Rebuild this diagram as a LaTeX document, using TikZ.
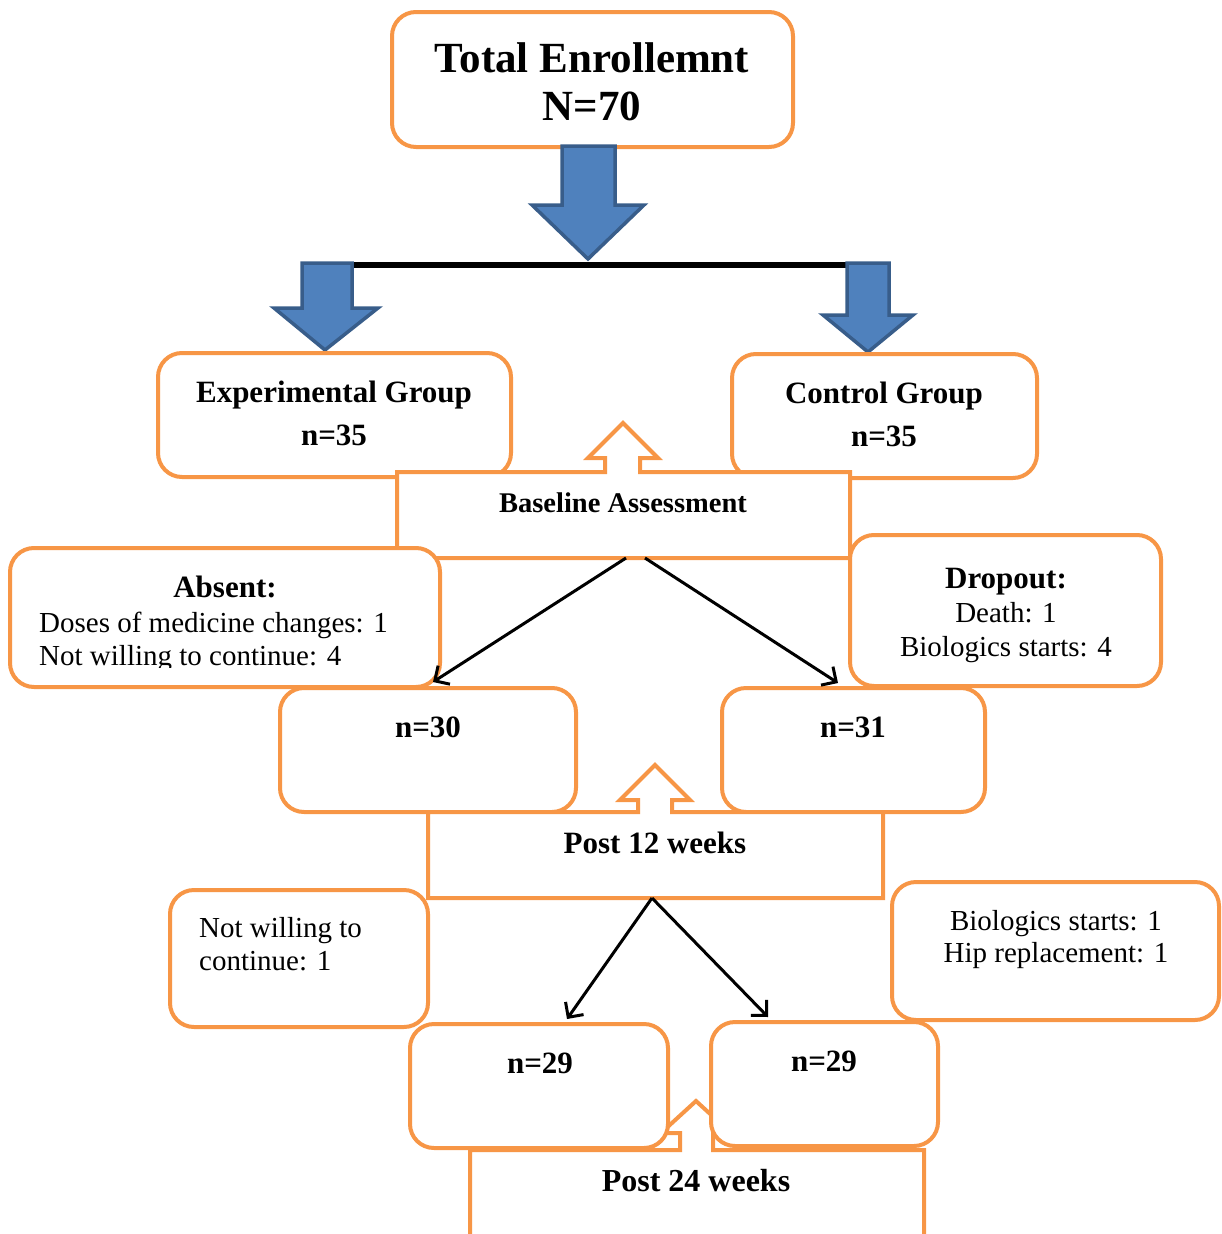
\documentclass[tikz,border=0pt]{standalone}
\usepackage{fontspec}
\setmainfont{Liberation Serif}
\usetikzlibrary{arrows.meta,calc}

\definecolor{boxorange}{HTML}{F79646}
\definecolor{arrowblue}{HTML}{4F81BD}
\definecolor{arrowedge}{HTML}{385D8A}

\newcommand\setfs[1]{\fontsize{#1}{#1}\selectfont}

\tikzset{
  grp/.style={draw=boxorange, line width=4pt, fill=white, rounded corners=24pt, inner sep=0pt},
  callout/.style={draw=boxorange, line width=4pt, fill=white, line join=miter},
  area/.style={inner sep=0pt, outer sep=0pt},
  bigarrow/.style={fill=arrowblue, draw=arrowedge, line width=3.5pt, line join=miter},
  conn/.style={line width=3pt, -{Straight Barb[length=11pt,width=22pt]}},
  head/.style={anchor=base, inner sep=0pt, font=\setfs{31}\bfseries},
  body/.style={anchor=base, inner sep=0pt, font=\setfs{29}},
}

\begin{document}
\begin{tikzpicture}[x=1pt,y=-1pt]
\useasboundingbox (0,0) rectangle (1221,1234);
\clip (0,0) rectangle (1221,1234);

% --- enrolment and split into the two groups ---
\node[grp, minimum width=401pt, minimum height=135pt] (total) at (592.5,79.5) {};
\node[anchor=base, inner sep=0pt, font=\setfs{43}\bfseries] (totalA) at (592,72) {Total Enrollemnt};
\node[anchor=base, inner sep=0pt, font=\setfs{43}\bfseries] (totalB) at (592,120) {N=70};

\draw[bigarrow] (562,146) -- (615,146) -- (615,205) -- (644,205) -- (588,259)
  -- (532,205) -- (562,205) -- cycle;
\draw[line width=6pt] (330,265) -- (878,265);
\draw[bigarrow] (302,263) -- (352,263) -- (352,308) -- (378,308) -- (325,350)
  -- (274,308) -- (302,308) -- cycle;
\draw[bigarrow] (847,263) -- (889,263) -- (889,315) -- (913,315) -- (868,352)
  -- (823,315) -- (847,315) -- cycle;

\node[grp, minimum width=353pt, minimum height=124pt] (exp) at (334.5,415) {};
\node[head] (expA) at (334,402) {Experimental Group};
\node[head] (expB) at (334,445) {n=35};

\node[grp, minimum width=305pt, minimum height=124pt] (ctl) at (884.5,416) {};
\node[head] (ctlA) at (884,403) {Control Group};
\node[head] (ctlB) at (884,446) {n=35};

% --- baseline assessment ---
\draw[callout] (397,472) -- (605,472) -- (605,458) -- (588,458) -- (623,423)
  -- (658,458) -- (640,458) -- (640,472) -- (850,472) -- (850,558) -- (397,558) -- cycle;
\node[area, minimum width=453pt, minimum height=86pt] (base) at (623.5,515) {};
\node[anchor=base, inner sep=0pt, font=\setfs{28.5}\bfseries] (baseT) at (623,512) {Baseline Assessment};

\node[grp, minimum width=430pt, minimum height=139pt] (absent) at (225,617.5) {};
\node[head] (absentA) at (225,597) {Absent:};
\node[body, anchor=base west] (absentB) at (39,632) {Doses of medicine changes: 1};
\begin{scope}
  \clip (0,540) rectangle (1221,667);
  \node[body, anchor=base west] (absentC) at (39,665) {Not willing to continue: 4};
\end{scope}

\node[grp, minimum width=311pt, minimum height=151pt] (drop) at (1005.5,610.5) {};
\node[head] (dropA) at (1006,588) {Dropout:};
\node[body] (dropB) at (1006,622) {Death: 1};
\node[body] (dropC) at (1006,656) {Biologics starts: 4};

\node[grp, minimum width=296pt, minimum height=124pt] (n30) at (428,750) {};
\node[head] (n30T) at (428,737) {n=30};
\node[grp, minimum width=263pt, minimum height=124pt] (n31) at (853.5,750) {};
\node[head] (n31T) at (853,737) {n=31};

\draw[conn] ($(base.south)+(2.5,0)$) -- ($(n30.north)+(5,-4)$);
\draw[conn] ($(base.south)+(21.5,0)$) -- ($(n31.north)+(-15.5,-3)$);

% --- post 12 weeks ---
\draw[callout] (428,812) -- (638,812) -- (638,800) -- (620,800) -- (655,765)
  -- (690,800) -- (672,800) -- (672,812) -- (883,812) -- (883,898) -- (428,898) -- cycle;
\node[area, minimum width=455pt, minimum height=86pt] (post12) at (655.5,855) {};
\node[head] (post12T) at (655,853) {Post 12 weeks};

\node[grp, minimum width=258pt, minimum height=137pt] (quit) at (299,958.5) {};
\node[body, anchor=base west] (quitA) at (199,937) {Not willing to};
\node[body, anchor=base west] (quitB) at (199,970) {continue: 1};

\node[grp, minimum width=327pt, minimum height=138pt] (bio) at (1055.5,951) {};
\node[body] (bioA) at (1056,930) {Biologics starts: 1};
\node[body] (bioB) at (1056,962) {Hip replacement: 1};

% --- post 24 weeks ---
\draw[callout] (470,1150) -- (680,1150) -- (680,1133) -- (661,1133) -- (696,1101)
  -- (731,1133) -- (713,1133) -- (713,1150) -- (924,1150) -- (924,1280) -- (470,1280) -- cycle;
\node[area, minimum width=454pt, minimum height=130pt] (post24) at (697,1215) {};
\node[head, font=\setfs{32}\bfseries] (post24T) at (696,1191) {Post 24 weeks};

\node[grp, minimum width=258pt, minimum height=124pt] (n29a) at (539,1086) {};
\node[head] (n29aT) at (540,1073) {n=29};
\node[grp, minimum width=227pt, minimum height=124pt] (n29b) at (824.5,1084) {};
\node[head] (n29bT) at (824,1071) {n=29};

\draw[conn] ($(post12.south)+(-3.5,0)$) -- ($(n29a.north)+(28,-3)$);
\draw[conn] ($(post12.south)+(-3.5,0)$) -- ($(n29b.north)+(-56.5,-3)$);
\end{tikzpicture}
\end{document}
